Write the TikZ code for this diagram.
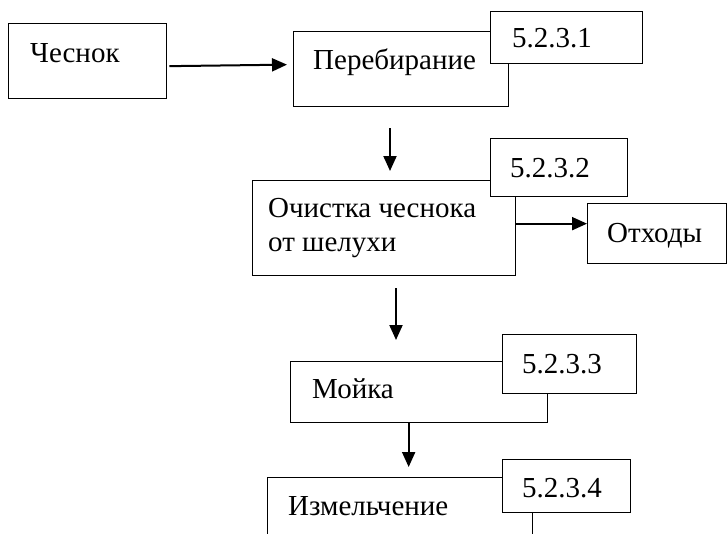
\documentclass[tikz,border=0pt]{standalone}
\usepackage{fontspec}
\setmainfont{Liberation Serif}
\usetikzlibrary{arrows.meta}
\begin{document}
\begin{tikzpicture}[x=1pt,y=-1pt,
  box/.style={draw, line width=1.3pt, inner sep=0pt, anchor=north west},
  tag/.style={box, fill=white},
  lbl/.style={font=\fontsize{29}{34}\selectfont, inner sep=0pt, anchor=base west, align=left},
  arr/.style={line width=2pt, -{Triangle[length=15pt,width=13pt]}}]
\clip (0,0) rectangle (727,533);
\fill[white] (0,0) rectangle (727,533);

% process boxes
\node[box, minimum width=158pt, minimum height=75pt] (ches) at (8,23) {};
\node[box, minimum width=215pt, minimum height=75pt] (pereb) at (293,31) {};
\node[box, minimum width=263pt, minimum height=95pt] (ochist) at (252,180) {};
\node[box, minimum width=139pt, minimum height=60pt] (othod) at (587,203) {};
\node[box, minimum width=257pt, minimum height=61pt] (mojka) at (290,361) {};
\node[box, minimum width=265pt, minimum height=90pt] (izmel) at (267,477) {};

% step numbers
\node[tag, minimum width=152pt, minimum height=52pt] (t1) at (490,11) {};
\node[tag, minimum width=137pt, minimum height=58pt] (t2) at (490,138) {};
\node[tag, minimum width=134pt, minimum height=59pt] (t3) at (502,334) {};
\node[tag, minimum width=128pt, minimum height=53pt] (t4) at (502,459) {};

% texts
\node[lbl] (ches-t) at (30,62) {Чеснок};
\node[lbl] (pereb-t) at (313,69) {Перебирание};
\node[lbl] (ochist-t1) at (268,217) {Очистка чеснока};
\node[lbl] (ochist-t2) at (268,251) {от шелухи};
\node[lbl] (othod-t) at (607,242) {Отходы};
\node[lbl] (mojka-t) at (312,398) {Мойка};
\node[lbl] (izmel-t) at (288,515) {Измельчение};
\node[lbl] (t1-t) at (512,47) {5.2.3.1};
\node[lbl] (t2-t) at (510,177) {5.2.3.2};
\node[lbl] (t3-t) at (522,373) {5.2.3.3};
\node[lbl] (t4-t) at (522,497) {5.2.3.4};

% free ends of the detached arrows
\coordinate (a2s) at (390,128);
\coordinate (a2e) at (390,171);
\coordinate (a3s) at (396,288);
\coordinate (a3e) at (396,340);

% connectors
\draw[arr] ([xshift=2pt,yshift=-5pt]ches.east) -- ([xshift=-6pt,yshift=4.5pt]pereb.west);
\draw[arr] (a2s) -- (a2e);
\draw[arr] ([yshift=4.5pt]ochist.east) -- ([yshift=10pt]othod.west);
\draw[arr] (a3s) -- (a3e);
\draw[arr] ([xshift=-10.5pt]mojka.south) -- ([xshift=-10.5pt,yshift=10pt]mojka.south |- izmel.north);
\end{tikzpicture}
\end{document}
